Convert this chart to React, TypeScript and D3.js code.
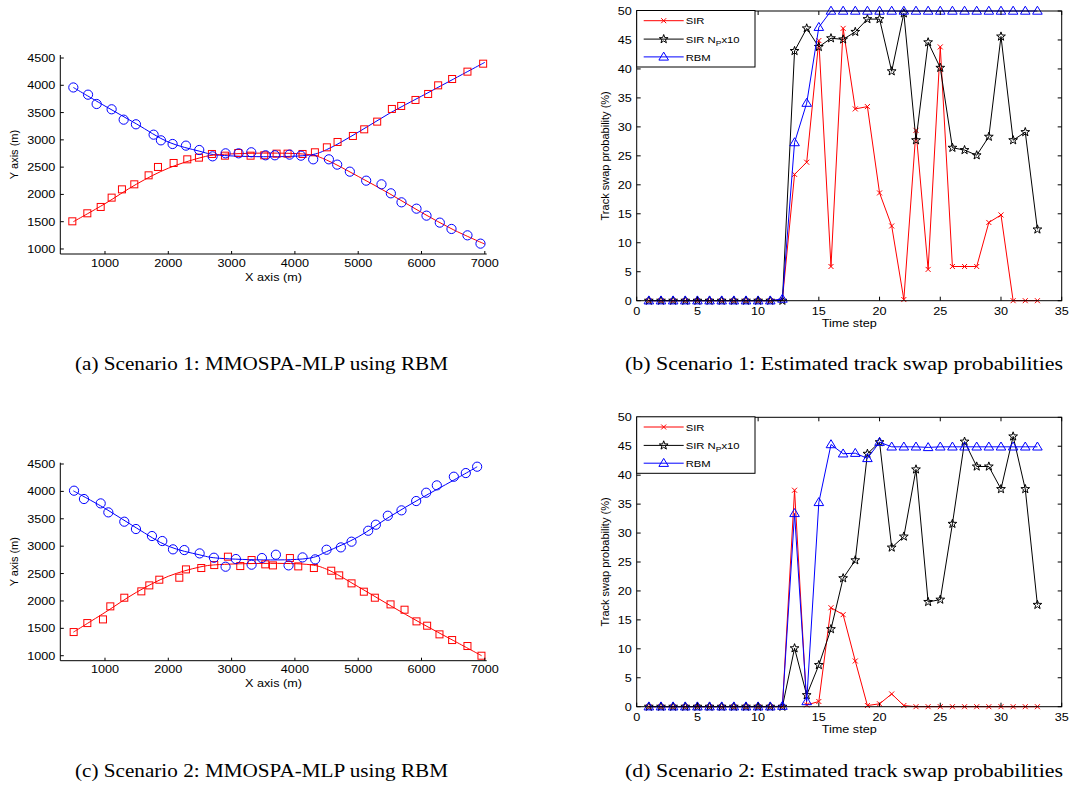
import React from 'react';
import * as d3 from 'd3';

// ---------- Scenario 1 : estimated positions (m)
const s1SquareX = [484, 721, 932, 1105, 1268, 1463, 1689, 1837, 2084, 2300, 2484, 2689, 2895, 3105, 3300, 3516, 3711, 3884, 4121, 4316, 4505, 4674, 4916, 5095, 5300, 5532, 5679, 5905, 6105, 6263, 6484, 6726, 6974];
const s1SquareY = [1507, 1654, 1770, 1941, 2093, 2185, 2350, 2503, 2576, 2643, 2674, 2741, 2710, 2759, 2710, 2717, 2747, 2747, 2741, 2772, 2863, 2961, 3071, 3193, 3334, 3566, 3621, 3731, 3841, 3999, 4115, 4250, 4396];
const s1CircleX = [500, 732, 868, 1105, 1295, 1489, 1768, 1884, 2068, 2279, 2489, 2700, 2905, 3111, 3311, 3537, 3684, 3916, 4095, 4289, 4537, 4668, 4868, 5126, 5368, 5516, 5684, 5921, 6079, 6289, 6474, 6726, 6932];
const s1CircleY = [3960, 3828, 3657, 3560, 3370, 3285, 3095, 2991, 2924, 2894, 2814, 2698, 2753, 2753, 2772, 2717, 2717, 2729, 2710, 2643, 2643, 2546, 2417, 2252, 2185, 2020, 1855, 1739, 1611, 1483, 1367, 1250, 1098];
// true trajectories
const s1LineX = [500, 1000, 1500, 2000, 2500, 2750, 4250, 4500, 5000, 5500, 6000, 6500, 7000];
const s1BlueLineY = [3960, 3620, 3290, 2960, 2790, 2725, 2725, 2820, 3140, 3490, 3800, 4110, 4420];
const s1RedLineY = [1500, 1830, 2190, 2480, 2670, 2725, 2725, 2630, 2330, 2010, 1670, 1355, 1090];

// ---------- Scenario 2 : estimated positions (m)
const s2SquareX = [505, 721, 968, 1084, 1305, 1574, 1700, 1858, 2174, 2279, 2521, 2726, 2942, 3137, 3316, 3532, 3653, 3921, 4053, 4300, 4574, 4700, 4895, 5089, 5263, 5511, 5732, 5921, 6089, 6284, 6484, 6726, 6947];
const s2SquareY = [1432, 1596, 1663, 1901, 2059, 2175, 2284, 2388, 2424, 2576, 2601, 2655, 2808, 2637, 2747, 2668, 2649, 2783, 2631, 2601, 2552, 2467, 2321, 2169, 2059, 1937, 1840, 1627, 1548, 1390, 1286, 1177, 1000];
const s2CircleX = [511, 668, 932, 1053, 1305, 1489, 1742, 1905, 2074, 2253, 2495, 2721, 2905, 3068, 3316, 3479, 3700, 3900, 4121, 4321, 4500, 4726, 4895, 5158, 5279, 5468, 5684, 5916, 6074, 6242, 6511, 6700, 6879];
const s2CircleY = [4013, 3861, 3781, 3617, 3447, 3313, 3185, 3094, 2942, 2929, 2868, 2789, 2625, 2765, 2662, 2783, 2844, 2649, 2795, 2759, 2935, 2978, 3082, 3282, 3392, 3556, 3654, 3824, 3976, 4110, 4268, 4335, 4451];
const s2BlueLineX = [500, 1000, 1500, 2000, 2500, 2750, 4250, 4500, 5000, 5500, 6000, 6500, 6880];
const s2BlueLineY = [4010, 3690, 3330, 3000, 2840, 2785, 2785, 2900, 3170, 3540, 3880, 4200, 4450];
const s2RedLineX = [500, 1000, 1500, 2000, 2500, 2750, 4250, 4500, 5000, 5500, 6000, 6500, 6950];
const s2RedLineY = [1430, 1790, 2160, 2450, 2620, 2660, 2660, 2580, 2260, 1920, 1590, 1280, 1000];

const trackXTicks = [1000, 2000, 3000, 4000, 5000, 6000, 7000];
const trackYTicks = [1000, 1500, 2000, 2500, 3000, 3500, 4000, 4500];

// ---------- track swap probabilities (%)
const steps = [1, 2, 3, 4, 5, 6, 7, 8, 9, 10, 11, 12, 13, 14, 15, 16, 17, 18, 19, 20, 21, 22, 23, 24, 25, 26, 27, 28, 29, 30, 31, 32, 33];
const s1Sir = [0, 0, 0, 0, 0, 0, 0, 0, 0, 0, 0, 0.2, 21.8, 23.9, 44.9, 5.9, 47.0, 33.1, 33.5, 18.6, 12.9, 0.2, 29.4, 5.4, 43.8, 5.9, 5.9, 5.9, 13.5, 14.8, 0, 0, 0];
const s1SirNp = [0, 0, 0, 0, 0, 0, 0, 0, 0, 0, 0, 0, 43.1, 47.0, 43.8, 45.3, 45.1, 46.4, 48.6, 48.6, 39.6, 49.6, 27.7, 44.6, 40.2, 26.4, 26.0, 25.1, 28.3, 45.6, 27.7, 29.1, 12.3];
const s1Rbm = [0, 0, 0, 0, 0, 0, 0, 0, 0, 0, 0, 0.3, 27.3, 34.1, 47.2, 50, 50, 50, 50, 50, 50, 50, 50, 50, 50, 50, 50, 50, 50, 50, 50, 50, 50];
const s2Sir = [0, 0, 0, 0, 0, 0, 0, 0, 0, 0, 0, 0, 37.4, 0.3, 0.9, 17.1, 15.9, 7.9, 0.2, 0.5, 2.2, 0.2, 0, 0, 0, 0, 0, 0, 0, 0, 0, 0, 0];
const s2SirNp = [0, 0, 0, 0, 0, 0, 0, 0, 0, 0, 0, 0, 10.1, 2.0, 7.2, 13.4, 22.2, 25.3, 43.7, 45.7, 27.5, 29.4, 41.0, 18.1, 18.5, 31.6, 45.8, 41.5, 41.5, 37.6, 46.7, 37.6, 17.6];
const s2Rbm = [0, 0, 0, 0, 0, 0, 0, 0, 0, 0, 0, 0.1, 33.4, 0.9, 35.3, 45.3, 43.7, 43.8, 42.9, 45.7, 44.9, 44.9, 44.9, 44.8, 44.9, 44.9, 44.9, 44.9, 44.9, 44.9, 44.9, 44.9, 44.9];

const stepTicks = [0, 5, 10, 15, 20, 25, 30, 35];
const probTicks = [0, 5, 10, 15, 20, 25, 30, 35, 40, 45, 50];

const RED = '#ff0000';
const BLUE = '#0000ff';
const FONT = 'Liberation Sans, Arial, Helvetica, sans-serif';
const SX = 1.15; // the figure is a little wider than tall

const Txt = ({ x, y, anchor = 'start', size = 11, children }: any) => (
  <text transform={`translate(${x},${y}) scale(${SX},1)`} textAnchor={anchor} fontSize={size} fontFamily={FONT} fill="#000">
    {children}
  </text>
);

const starPath = (r: number) => {
  const pts: [number, number][] = [];
  for (let i = 0; i < 10; i++) {
    const a = -Math.PI / 2 + (i * Math.PI) / 5;
    const rr = i % 2 === 0 ? r : r * 0.4;
    pts.push([rr * Math.cos(a), rr * Math.sin(a)]);
  }
  return 'M' + pts.map((p) => p.join(',')).join('L') + 'Z';
};

const Marker = ({ kind, x, y }: any) => {
  if (kind === 'x')
    return <path d={`M${x - 2.5},${y - 2.5}L${x + 2.5},${y + 2.5}M${x - 2.5},${y + 2.5}L${x + 2.5},${y - 2.5}`} stroke={RED} strokeWidth={1} />;
  if (kind === 'star')
    return <path d={starPath(4.6)} transform={`translate(${x},${y})`} fill="none" stroke="#000" strokeWidth={1} />;
  if (kind === 'tri')
    return <path d={`M${x},${y - 4.8}L${x + 4.8},${y + 3.2}L${x - 4.8},${y + 3.2}Z`} fill="none" stroke={BLUE} strokeWidth={1} />;
  if (kind === 'circle') return <circle cx={x} cy={y} r={4.6} fill="none" stroke={BLUE} strokeWidth={1} />;
  return <rect x={x - 3.5} y={y - 3.5} width={7} height={7} fill="none" stroke={RED} strokeWidth={1} />;
};

const TrackPanel = ({ top, bottom, yMin, yMax, sqX, sqY, ciX, ciY, blueX, blueY, redX, redY }: any) => {
  const left = 60.3, right = 486.7;
  const x = d3.scaleLinear().domain([294, 7030]).range([left, right]);
  const y = d3.scaleLinear().domain([yMin, yMax]).range([bottom, top]);
  const line = d3.line<number>().curve(d3.curveCatmullRom);
  const blue = line(blueX.map((v: number, i: number) => [x(v), y(blueY[i])]) as any);
  const red = line(redX.map((v: number, i: number) => [x(v), y(redY[i])]) as any);
  return (
    <g>
      <path d={blue || ''} fill="none" stroke={BLUE} strokeWidth={1} />
      <path d={red || ''} fill="none" stroke={RED} strokeWidth={1} />
      {sqX.map((v: number, i: number) => <Marker key={'s' + i} kind="square" x={x(v)} y={y(sqY[i])} />)}
      {ciX.map((v: number, i: number) => <Marker key={'c' + i} kind="circle" x={x(v)} y={y(ciY[i])} />)}
      <path d={`M${left},${top}V${bottom}H${right}`} fill="none" stroke="#000" strokeWidth={1} />
      {trackXTicks.map((t) => (
        <g key={'xt' + t}>
          <line x1={x(t)} x2={x(t)} y1={bottom} y2={bottom - 3} stroke="#000" />
          <Txt x={x(t)} y={bottom + 12.5} anchor="middle">{t}</Txt>
        </g>
      ))}
      {trackYTicks.map((t) => (
        <g key={'yt' + t}>
          <line x1={left} x2={left + 3.5} y1={y(t)} y2={y(t)} stroke="#000" />
          <Txt x={left - 5} y={y(t) + 4} anchor="end">{t}</Txt>
        </g>
      ))}
      <Txt x={(left + right) / 2} y={bottom + 26.5} anchor="middle">X axis (m)</Txt>
      <text transform={`translate(17.5,${(top + bottom) / 2}) rotate(-90)`} textAnchor="middle" fontSize={11} fontFamily={FONT}>Y axis (m)</text>
    </g>
  );
};

const SwapPanel = ({ top, bottom, sir, sirNp, rbm }: any) => {
  const left = 636.7, right = 1061.7;
  const x = d3.scaleLinear().domain([0, 35]).range([left, right]);
  const y = d3.scaleLinear().domain([0, 50]).range([bottom, top]);
  const line = d3.line<number>().x((_, i) => x(steps[i])).y((d) => y(d));
  const series = [
    { vals: sir, color: RED, kind: 'x' },
    { vals: sirNp, color: '#000', kind: 'star' },
    { vals: rbm, color: BLUE, kind: 'tri' },
  ];
  const lg = { x: left, y: top - 0.5, w: 118.3, h: 56.5 };
  const rows = [10.2, 28.6, 46.4];
  return (
    <g>
      {series.map((s, k) => (
        <g key={'ser' + k}>
          <path d={line(s.vals) || ''} fill="none" stroke={s.color} strokeWidth={1} />
          {s.vals.map((v: number, i: number) => <Marker key={i} kind={s.kind} x={x(steps[i])} y={y(v)} />)}
        </g>
      ))}
      <rect x={left} y={top} width={right - left} height={bottom - top} fill="none" stroke="#000" strokeWidth={1} />
      {stepTicks.map((t) => (
        <g key={'xt' + t}>
          <line x1={x(t)} x2={x(t)} y1={bottom} y2={bottom - 4} stroke="#000" />
          <line x1={x(t)} x2={x(t)} y1={top} y2={top + 4} stroke="#000" />
          <Txt x={x(t)} y={bottom + 14.5} anchor="middle">{t}</Txt>
        </g>
      ))}
      {probTicks.map((t) => (
        <g key={'yt' + t}>
          <line x1={left} x2={left + 4} y1={y(t)} y2={y(t)} stroke="#000" />
          <line x1={right} x2={right - 4} y1={y(t)} y2={y(t)} stroke="#000" />
          <Txt x={left - 5} y={y(t) + 4} anchor="end">{t}</Txt>
        </g>
      ))}
      <Txt x={(left + right) / 2} y={bottom + 26} anchor="middle">Time step</Txt>
      <text transform={`translate(609,${(top + bottom) / 2}) rotate(-90)`} textAnchor="middle" fontSize={11} fontFamily={FONT}>Track swap probability (%)</text>
      <rect x={lg.x} y={lg.y} width={lg.w} height={lg.h} fill="#fff" stroke="#000" strokeWidth={1} />
      {series.map((s, k) => (
        <g key={'lg' + k}>
          <line x1={lg.x + 7} x2={lg.x + 47} y1={lg.y + rows[k]} y2={lg.y + rows[k]} stroke={s.color} />
          <Marker kind={s.kind} x={lg.x + 27} y={lg.y + rows[k]} />
        </g>
      ))}
      <Txt x={lg.x + 49} y={lg.y + rows[0] + 3.6} size={9.8}>SIR</Txt>
      <Txt x={lg.x + 49} y={lg.y + rows[1] + 3.6} size={9.8}>
        SIR N<tspan dy={3} fontSize={7.5}>P</tspan><tspan dy={-3}>x10</tspan>
      </Txt>
      <Txt x={lg.x + 49} y={lg.y + rows[2] + 3.6} size={9.8}>RBM</Txt>
    </g>
  );
};

const Caption = ({ x, y, w, children }: any) => (
  <text x={x} y={y} textLength={w} lengthAdjust="spacingAndGlyphs" fontSize={18} fontFamily="Liberation Serif, Times New Roman, serif" fill="#000">
    {children}
  </text>
);

export default function App() {
  return (
    <div style={{ position: 'absolute', left: 0, top: 0 }}>
      <svg width={1072} height={789} style={{ display: 'block', background: '#fff' }}>
        <TrackPanel top={55} bottom={254} yMin={908} yMax={4555}
          sqX={s1SquareX} sqY={s1SquareY} ciX={s1CircleX} ciY={s1CircleY}
          blueX={s1LineX} blueY={s1BlueLineY} redX={s1LineX} redY={s1RedLineY} />
        <TrackPanel top={462.7} bottom={660.7} yMin={909} yMax={4524}
          sqX={s2SquareX} sqY={s2SquareY} ciX={s2CircleX} ciY={s2CircleY}
          blueX={s2BlueLineX} blueY={s2BlueLineY} redX={s2RedLineX} redY={s2RedLineY} />
        <SwapPanel top={11} bottom={300.7} sir={s1Sir} sirNp={s1SirNp} rbm={s1Rbm} />
        <SwapPanel top={417.3} bottom={706.7} sir={s2Sir} sirNp={s2SirNp} rbm={s2Rbm} />
        <Caption x={75} y={370} w={373}>(a)  Scenario 1: MMOSPA-MLP using RBM</Caption>
        <Caption x={625} y={370} w={438}>(b)  Scenario 1: Estimated track swap probabilities</Caption>
        <Caption x={75} y={777} w={373}>(c)  Scenario 2: MMOSPA-MLP using RBM</Caption>
        <Caption x={625} y={777} w={438}>(d)  Scenario 2: Estimated track swap probabilities</Caption>
      </svg>
    </div>
  );
}
